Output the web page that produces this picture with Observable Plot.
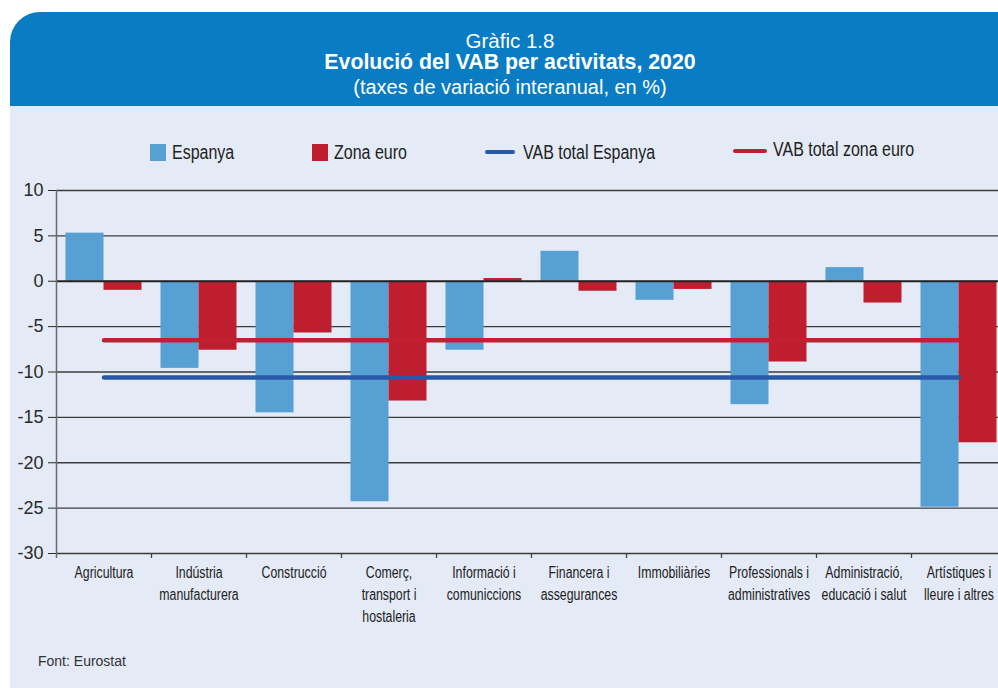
<!DOCTYPE html>
<html>
<head>
<meta charset="utf-8">
<script src="https://cdn.jsdelivr.net/npm/d3@7"></script>
<script src="https://cdn.jsdelivr.net/npm/@observablehq/plot@0.6"></script>
<style>
  html, body { margin: 0; padding: 0; background: #ffffff; overflow: hidden; }
  #page { position: relative; width: 998px; height: 688px; overflow: hidden; background: #ffffff; font-family: "Liberation Sans", Arial, sans-serif; }
  #header { position: absolute; left: 10px; top: 12px; width: 1000px; height: 94px; background: #0a7cc3; border-top-left-radius: 30px; color: #fff; text-align: center; }
  #header div { position: absolute; left: 0; right: 0; line-height: 1; white-space: nowrap; }
  #header .l1 { top: 18.5px; font-size: 20.5px; }
  #header .l2 { top: 40px; font-size: 21.3px; font-weight: bold; }
  #header .l3 { top: 65px; font-size: 20px; }
  #panel { position: absolute; left: 10px; top: 106px; width: 1000px; height: 582px; background: #e4eaf6; }
  .lg { position: absolute; font-family: "Liberation Sans", Arial, sans-serif; font-size: 19.5px; color: #222; white-space: nowrap; line-height: 1; transform: scaleX(0.82); transform-origin: 0 0; }
  .sw { position: absolute; width: 16px; height: 17px; }
  .ln { position: absolute; height: 4px; border-radius: 2px; }
  #chart { position: absolute; left: 0; top: 180px; }
  #caption { position: absolute; left: 38px; top: 653px; font-size: 14px; color: #333; font-family: "Liberation Sans", Arial, sans-serif; }
</style>
</head>
<body>
<div id="page">
  <div id="header">
    <div class="l1">Gràfic 1.8</div>
    <div class="l2">Evolució del VAB per activitats, 2020</div>
    <div class="l3">(taxes de variació interanual, en %)</div>
  </div>
  <div id="panel"></div>
  <div id="legend"></div>
  <div id="chart"></div>
  <div id="caption">Font: Eurostat</div>
</div>
<script>
// ---- Data ----
const categories = [
  "Agricultura",
  "Indústria manufacturera",
  "Construcció",
  "Comerç, transport i hostaleria",
  "Informació i comuniccions",
  "Financera i assegurances",
  "Immobiliàries",
  "Professionals i administratives",
  "Administració, educació i salut",
  "Artístiques i lleure i altres"
];
const categoryLabels = [
  "Agricultura",
  "Indústria\nmanufacturera",
  "Construcció",
  "Comerç,\ntransport i\nhostaleria",
  "Informació i\ncomuniccions",
  "Financera i\nassegurances",
  "Immobiliàries",
  "Professionals i\nadministratives",
  "Administració,\neducació i salut",
  "Artístiques i\nlleure i altres"
];
const espanya   = [5.3, -9.6, -14.5, -24.3, -7.6, 3.3, -2.1, -13.6, 1.5, -24.9];
const zonaEuro  = [-1.0, -7.6, -5.7, -13.2, 0.3, -1.1, -0.9, -8.9, -2.4, -17.8];
const totalEspanya  = -10.6;
const totalZonaEuro = -6.5;
const yTicks = [-30, -25, -20, -15, -10, -5, 0, 5, 10];
const seriesNames = ["Espanya", "Zona euro", "VAB total Espanya", "VAB total zona euro"];

// ---- Styles ----
const colSpain = "#57a0d4";
const colEuro = "#be1e2d";
const colSpainLine = "#2858a8";
const colEuroLine = "#c41f30";

// ---- Legend (HTML) ----
const legend = document.getElementById("legend");
function addSwatch(x, y, color) { const d = document.createElement("div"); d.className = "sw"; d.style.left = x + "px"; d.style.top = y + "px"; d.style.background = color; legend.appendChild(d); }
function addLine(x, y, w, color) { const d = document.createElement("div"); d.className = "ln"; d.style.left = x + "px"; d.style.top = y + "px"; d.style.width = w + "px"; d.style.background = color; legend.appendChild(d); }
function addText(x, y, t) { const d = document.createElement("div"); d.className = "lg"; d.style.left = x + "px"; d.style.top = y + "px"; d.textContent = t; legend.appendChild(d); }
addSwatch(150, 144, colSpain);   addText(172, 143, seriesNames[0]);
addSwatch(312, 144, colEuro);    addText(334, 143, seriesNames[1]);
addLine(485, 150, 30, colSpainLine); addText(523, 143, seriesNames[2]);
addLine(733, 149, 34, colEuroLine);  addText(773, 140, seriesNames[3]);

// ---- Chart ----
const W = 1010, H = 458, mL = 56, mR = 4, mT = 10, mB = 85;
const bw = (W - mL - mR) / categories.length;
const rowsSpain = categories.map((c, i) => ({cat: c, value: espanya[i]}));
const rowsEuro = categories.map((c, i) => ({cat: c, value: zonaEuro[i]}));
const labelOf = new Map(categories.map((c, i) => [c, categoryLabels[i]]));
const tickLen = 5 * (10 - (-30)) / (H - mT - mB);

const chart = Plot.plot({
  width: W, height: H,
  marginLeft: mL, marginRight: mR, marginTop: mT, marginBottom: mB,
  style: {background: "transparent", color: "#2a2a2a", fontFamily: "'Liberation Sans', Arial, sans-serif", fontSize: "18px", maxWidth: "none", overflow: "visible"},
  x: {type: "band", domain: categories, padding: 0, axis: null},
  y: {domain: [-30, 10], ticks: yTicks, tickSize: 8, tickPadding: 5, tickFormat: d => String(d), label: null},
  marks: [
    Plot.ruleY(yTicks.filter(d => d !== 0), {y: d => d, stroke: "#3c3c3c", strokeWidth: 1.3}),
    Plot.barY(rowsSpain, {x: "cat", y: "value", fill: colSpain, insetLeft: bw * 0.1, insetRight: bw * 0.5}),
    Plot.barY(rowsEuro, {x: "cat", y: "value", fill: colEuro, insetLeft: bw * 0.5, insetRight: bw * 0.1}),
    Plot.ruleY([0], {stroke: "#222", strokeWidth: 2}),
    Plot.ruleX([categories[0]], {x: d => d, dx: -bw / 2, y1: -30 - tickLen, y2: 10, stroke: "#6a6a6a", strokeWidth: 1.5}),
    Plot.ruleX(categories.slice(1), {x: d => d, dx: -bw / 2, y1: -30 - tickLen, y2: -30, stroke: "#444", strokeWidth: 1.3}),
    Plot.lineY(categories, {x: d => d, y: () => totalZonaEuro, stroke: colEuroLine, strokeWidth: 4.4}),
    Plot.lineY(categories, {x: d => d, y: () => totalEspanya, stroke: colSpainLine, strokeWidth: 4.4}),
    Plot.text(categories, {x: d => d, y: () => -30, dy: 9, text: d => labelOf.get(d), lineAnchor: "top", lineHeight: 1.38, fontSize: 16, fill: "#222", ariaDescription: "xlabels"})
  ]
});
// condense the category labels horizontally (the reference uses a condensed face)
let groups = chart.querySelectorAll('g[aria-description="xlabels"]');
if (!groups.length) groups = chart.querySelectorAll('g[aria-label="text"]');
groups.forEach(g => g.querySelectorAll("text").forEach(t => {
  const tr = t.getAttribute("transform");
  if (tr) t.setAttribute("transform", tr + " scale(0.77,1)");
  else {
    const x = +t.getAttribute("x") || 0, y = +t.getAttribute("y") || 0;
    t.removeAttribute("x"); t.removeAttribute("y");
    t.querySelectorAll("tspan").forEach(s => s.removeAttribute("x"));
    t.setAttribute("transform", `translate(${x},${y}) scale(0.77,1)`);
  }
}));
document.getElementById("chart").appendChild(chart);
</script>
</body>
</html>
